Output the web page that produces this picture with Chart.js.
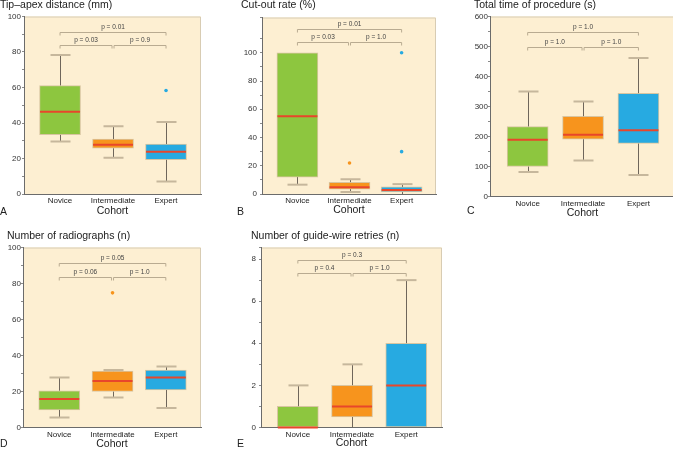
<!DOCTYPE html>
<html>
<head>
<meta charset="utf-8">
<script src="https://cdn.jsdelivr.net/npm/chart.js@4.4.0/dist/chart.umd.min.js"></script>
<style>
  html, body { margin: 0; padding: 0; background: #fff; }
  body { position: relative; width: 673px; height: 449px; overflow: hidden; font-family: "Liberation Sans", Arial, sans-serif; }
  canvas { position: absolute; }
  .letter { position: absolute; font-size: 10.5px; line-height: 1; color: #222; }
</style>
</head>
<body>
<canvas id="chart-a"></canvas>
<canvas id="chart-b"></canvas>
<canvas id="chart-c"></canvas>
<canvas id="chart-d"></canvas>
<canvas id="chart-e"></canvas>
<div class="letter" style="left:0px;top:206px">A</div>
<div class="letter" style="left:237px;top:206px">B</div>
<div class="letter" style="left:467px;top:205px">C</div>
<div class="letter" style="left:0px;top:438px">D</div>
<div class="letter" style="left:237px;top:438px">E</div>
<script>
const cohorts = ['Novice', 'Intermediate', 'Expert'];

// each row: [lower whisker, Q1, median, Q3, upper whisker]
const tipApexStats = [[29.6, 33.4, 46.4, 61.1, 78.3], [20.4, 25.8, 27.7, 30.9, 38.1], [7.0, 19.4, 23.8, 28.1, 40.6]];
const tipApexOutliers = [[], [], [58.3]];
const tipApexPValues = ['p = 0.03', 'p = 0.9', 'p = 0.01'];
const tipApexTicks = [0, 20, 40, 60, 80, 100];

const cutOutStats = [[6.6, 12, 55, 100, 100], [1.4, 3.5, 4.7, 8.3, 10.4], [0, 1.4, 2.8, 5, 7]];
const cutOutOutliers = [[], [22], [30, 100]];
const cutOutPValues = ['p = 0.03', 'p = 1.0', 'p = 0.01'];
const cutOutTicks = [0, 20, 40, 60, 80, 100];

const timeStats = [[82, 100, 189, 233, 350], [120, 191, 206, 267, 317], [72, 177, 221, 344, 462]];
const timeOutliers = [[], [], []];
const timePValues = ['p = 1.0', 'p = 1.0', 'p = 1.0'];
const timeTicks = [0, 100, 200, 300, 400, 500, 600];

const radiographStats = [[5.6, 9.8, 15.9, 20.4, 27.8], [16.7, 20, 25.9, 31.3, 31.9], [10.9, 20.9, 27.8, 31.9, 33.9]];
const radiographOutliers = [[], [74.8], []];
const radiographPValues = ['p = 0.06', 'p = 1.0', 'p = 0.05'];
const radiographTicks = [0, 20, 40, 60, 80, 100];

const retryStats = [[0, 0, 0, 1, 2], [0, 0.5, 1, 2, 3], [0, 0, 2, 4, 7]];
const retryOutliers = [[], [], []];
const retryPValues = ['p = 0.4', 'p = 1.0', 'p = 0.3'];
const retryTicks = [0, 2, 4, 6, 8];

const boxColors = ['#8dc63f', '#f7941d', '#27aae1'];
const fontFamily = '"Liberation Sans", Arial, sans-serif';
Chart.defaults.font.family = fontFamily;

const panels = [
    { id: 'chart-a', title: 'Tip–apex distance (mm)', stats: tipApexStats, outliers: tipApexOutliers, pValues: tipApexPValues, ticks: tipApexTicks,
      yMax: 100, step: 10, bracketY: [84, 91.5], left: -6, top: 0, width: 211, height: 216, axisW: 24, xAxisH: 22, titleGap: 6, tickPad: 1 },
    { id: 'chart-b', title: 'Cut-out rate (%)', stats: cutOutStats, outliers: cutOutOutliers, pValues: cutOutPValues, ticks: cutOutTicks,
      yMax: 125, step: 10, bracketY: [107.6, 117], left: 235, top: 0, width: 205, height: 215, axisW: 21, xAxisH: 21, titleGap: 7, tickPad: 3 },
    { id: 'chart-c', title: 'Total time of procedure (s)', stats: timeStats, outliers: timeOutliers, pValues: timePValues, ticks: timeTicks,
      yMax: 600, step: 50, bracketY: [499, 547], left: 468, top: 0, width: 209, height: 218.5, axisW: 16, xAxisH: 21.5, titleGap: 6, tickPad: 0 },
    { id: 'chart-d', title: 'Number of radiographs (n)', stats: radiographStats, outliers: radiographOutliers, pValues: radiographPValues, ticks: radiographTicks,
      yMax: 100, step: 10, bracketY: [83.8, 91.2], left: 1, top: 231, width: 204, height: 218.5, axisW: 16, xAxisH: 21.5, titleGap: 6, tickPad: 0 },
    { id: 'chart-e', title: 'Number of guide-wire retries (n)', stats: retryStats, outliers: retryOutliers, pValues: retryPValues, ticks: retryTicks,
      yMax: 8.55, step: 1, bracketY: [7.34, 7.97], left: 245, top: 231, width: 199, height: 217.5, axisW: 10, xAxisH: 20.5, titleGap: 6, tickPad: 3 }
];

// cream plot background, whiskers, medians and significance brackets
const boxExtras = {
    id: 'boxExtras',
    beforeDraw(chart) {
        const { ctx, chartArea: a } = chart;
        ctx.save();
        ctx.fillStyle = '#fdefd2';
        ctx.fillRect(a.left, a.top, a.width, a.height);
        ctx.strokeStyle = '#d8ccb3';
        ctx.lineWidth = 1;
        ctx.beginPath();
        ctx.moveTo(a.left, a.top + 0.5);
        ctx.lineTo(a.right - 0.5, a.top + 0.5);
        ctx.lineTo(a.right - 0.5, a.bottom);
        ctx.stroke();
        ctx.restore();
    },
    beforeDatasetsDraw(chart, args, opts) {
        const { ctx, scales: { x, y } } = chart;
        ctx.save();
        opts.stats.forEach((s, i) => {
            const px = Math.round(x.getPixelForValue(i + 1)) + 0.5;
            const [lo, q1, , q3, hi] = s.map(v => y.getPixelForValue(v));
            ctx.strokeStyle = '#6f665b';
            ctx.lineWidth = 1;
            ctx.beginPath();
            if (s[0] < s[1]) { ctx.moveTo(px, q1); ctx.lineTo(px, lo); }
            if (s[4] > s[3]) { ctx.moveTo(px, q3); ctx.lineTo(px, hi); }
            ctx.stroke();
            ctx.strokeStyle = '#c6b79c';
            ctx.lineWidth = 2;
            ctx.beginPath();
            if (s[0] < s[1] && s[0] > y.min) { ctx.moveTo(px - 10, lo); ctx.lineTo(px + 10, lo); }
            if (s[4] > s[3]) { ctx.moveTo(px - 10, hi); ctx.lineTo(px + 10, hi); }
            ctx.stroke();
        });
        ctx.restore();
    },
    afterDatasetsDraw(chart, args, opts) {
        const { ctx, scales: { x, y } } = chart;
        ctx.save();
        ctx.strokeStyle = '#e8462b';
        ctx.lineWidth = 2;
        opts.stats.forEach((s, i) => {
            const px = x.getPixelForValue(i + 1);
            const py = y.getPixelForValue(s[2]);
            ctx.beginPath();
            ctx.moveTo(px - 20, py);
            ctx.lineTo(px + 20, py);
            ctx.stroke();
        });

        const [n, m, e] = [1, 2, 3].map(v => x.getPixelForValue(v));
        const [yLow, yHigh] = opts.bracketY.map(v => Math.round(y.getPixelForValue(v)) + 0.5);
        const bracket = (x0, x1, yy, label) => {
            ctx.strokeStyle = '#b9ab91';
            ctx.lineWidth = 1;
            ctx.beginPath();
            ctx.moveTo(x0, yy + 3);
            ctx.lineTo(x0, yy);
            ctx.lineTo(x1, yy);
            ctx.lineTo(x1, yy + 3);
            ctx.stroke();
            ctx.fillStyle = '#444';
            ctx.font = '6.5px ' + fontFamily;
            ctx.textAlign = 'center';
            ctx.textBaseline = 'middle';
            ctx.fillText(label, (x0 + x1) / 2, yy - 5);
        };
        bracket(n, m - 1, yLow, opts.pValues[0]);
        bracket(m + 1, e, yLow, opts.pValues[1]);
        bracket(n, e, yHigh, opts.pValues[2]);
        ctx.restore();
    }
};

panels.forEach(p => {
    const canvas = document.getElementById(p.id);
    canvas.width = p.width;
    canvas.height = p.height;
    canvas.style.left = p.left + 'px';
    canvas.style.top = p.top + 'px';

    const outlierPoints = [];
    const outlierColors = [];
    p.outliers.forEach((list, i) => list.forEach(v => {
        outlierPoints.push({ x: i + 1, y: v });
        outlierColors.push(boxColors[i]);
    }));

    new Chart(canvas.getContext('2d'), {
        type: 'bar',
        data: {
            datasets: [{
                type: 'bar',
                data: p.stats.map((s, i) => ({ x: i + 1, y: [s[1], s[3]] })),
                backgroundColor: boxColors,
                borderColor: 'rgba(200, 180, 140, 0.7)',
                borderWidth: 1,
                borderSkipped: false,
                barThickness: 41
            }, {
                type: 'scatter',
                data: outlierPoints,
                pointRadius: 1.8,
                pointBorderWidth: 0,
                pointBackgroundColor: outlierColors
            }]
        },
        options: {
            responsive: false,
            animation: false,
            layout: { padding: { left: 6, right: 2, top: 0, bottom: 0 } },
            plugins: {
                legend: { display: false },
                tooltip: { enabled: false },
                title: {
                    display: true,
                    text: p.title,
                    align: 'start',
                    color: '#222',
                    font: { size: 10.5, weight: 'normal', lineHeight: 1 },
                    padding: { top: 0, bottom: p.titleGap }
                },
                boxExtras: { stats: p.stats, pValues: p.pValues, bracketY: p.bracketY }
            },
            scales: {
                x: {
                    type: 'linear',
                    min: 0.32,
                    max: 3.66,
                    offset: false,
                    afterBuildTicks: s => { s.ticks = cohorts.map((c, i) => ({ value: i + 1 })); },
                    afterFit: s => { s.height = p.xAxisH; },
                    grid: { display: false, drawTicks: false },
                    border: { color: '#6b6b6b' },
                    ticks: {
                        callback: v => cohorts[v - 1],
                        color: '#222',
                        font: { size: 8 },
                        padding: 2,
                        maxRotation: 0,
                        autoSkip: false
                    },
                    title: {
                        display: true,
                        text: 'Cohort',
                        color: '#222',
                        font: { size: 10.5, lineHeight: 1 },
                        padding: 0
                    }
                },
                y: {
                    min: 0,
                    max: p.yMax,
                    afterFit: s => { s.width = p.axisW; },
                    grid: { drawOnChartArea: false, tickLength: 2, color: '#8a8a8a' },
                    border: { color: '#6b6b6b' },
                    ticks: {
                        stepSize: p.step,
                        autoSkip: false,
                        callback: v => p.ticks.includes(v) ? v : '',
                        color: '#333',
                        font: { size: 8 },
                        padding: p.tickPad
                    }
                }
            }
        },
        plugins: [boxExtras]
    });
});
</script>
</body>
</html>
